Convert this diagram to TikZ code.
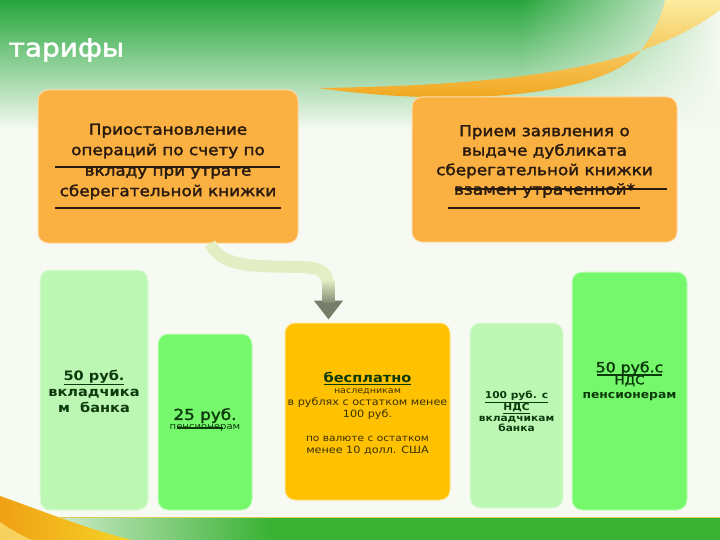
\documentclass[tikz,border=0pt]{standalone}
\usepackage{fontspec}
\setmainfont{DejaVu Sans}[FakeStretch=1.12]
\newfontfamily\mediumfont{DejaVu Sans}[FakeStretch=1.12, FakeBold=2]
\usetikzlibrary{arrows.meta,fadings,positioning}
\definecolor{slidegreen}{RGB}{38,166,60}
\definecolor{bandgreen}{RGB}{58,178,52}
\definecolor{bgpale}{RGB}{246,250,242}
\definecolor{boxorange}{RGB}{251,176,66}
\definecolor{boxyellow}{RGB}{255,193,0}
\definecolor{palegreen}{RGB}{188,248,180}
\definecolor{lightgreen}{RGB}{118,248,108}
\definecolor{inkbrown}{RGB}{40,26,14}
\definecolor{inkgreen}{RGB}{12,58,12}
\definecolor{inkolive}{RGB}{58,50,0}
\definecolor{arrowpale}{RGB}{228,238,196}
\definecolor{arrowgray}{RGB}{118,124,104}
\definecolor{swooshyellow}{RGB}{246,212,40}
\definecolor{swooshorange}{RGB}{240,160,20}

\tikzset{
  tilebox/.style={rounded corners=10pt, line width=1pt, inner sep=0pt},
  orangebox/.style={tilebox, fill=boxorange, draw=white!55!boxorange},
  yellowbox/.style={tilebox, fill=boxyellow, draw=white!55!boxyellow},
  palebox/.style={tilebox, fill=palegreen, draw=white!50!palegreen},
  greenbox/.style={tilebox, fill=lightgreen, draw=white!55!lightgreen},
  boxtext/.style={align=center, inner sep=0pt, text=inkbrown},
  tiletext/.style={align=center, inner sep=0pt, text=inkgreen},
  smear/.style={draw=inkbrown, line width=2pt},
  flowband/.style={draw=arrowpale, line width=12pt,
    -{Triangle[width=28pt,length=19pt,color=arrowgray]}}
}

\begin{document}
\begin{tikzpicture}[x=1pt,y=-1pt]
\useasboundingbox (0,0) rectangle (720,540);

% background
\fill[bgpale] (0,0) rectangle (720,540);
\shade[top color=slidegreen, middle color=slidegreen!50!bgpale, bottom color=bgpale]
  (0,0) rectangle (720,130);
\fill[bgpale, path fading=west] (520,0) rectangle (720,130);

% yellow swoosh
\shade[top color=white!55!swooshyellow, bottom color=swooshorange]
  (318,88) .. controls (460,108) and (600,96) .. (640,52)
  .. controls (655,32) and (662,15) .. (665,0) -- (720,0) -- (720,10)
  .. controls (650,62) and (540,85) .. (318,88) -- cycle;

% bottom band
\fill[bandgreen] (0,518) rectangle (720,540);
\fill[bgpale, path fading=east] (0,518) rectangle (270,540);
\draw[draw={rgb,255:red,222;green,204;blue,90}, line width=1pt] (60,517.5) -- (720,517.5);
\shade[left color=swooshorange, right color=swooshyellow]
  (0,496) .. controls (45,512) and (90,530) .. (132,540) -- (0,540) -- cycle;
\fill[white!40!swooshyellow, opacity=0.7]
  (0,522) .. controls (12,530) and (20,535) .. (32,540) -- (0,540) -- cycle;

\node[white, anchor=west, font=\mediumfont\fontsize{25}{25}\selectfont] (title) at (5,50) {тарифы};

% top boxes
\node[orangebox, minimum width=260pt, minimum height=153pt] (stop) at (168,166.5) {};
\node[orangebox, minimum width=265pt, minimum height=145pt] (dup) at (544.5,169.5) {};

\node[boxtext, font=\mediumfont\fontsize{15}{20.5}\selectfont] (stoptxt) at ([yshift=5pt]stop.center)
  {Приостановление\\операций по счету по\\вкладу при утрате\\сберегательной книжки};
\node[boxtext, font=\mediumfont\fontsize{15}{19.5}\selectfont] (duptxt) at ([yshift=8pt]dup.center)
  {Прием заявления о\\выдаче дубликата\\сберегательной книжки\\взамен утраченной*};

\draw[smear] (55,167) -- (280,167);
\draw[smear] (55,208) -- (281,208);
\draw[smear, line width=1.6pt] (455,189) -- (667,189);
\draw[smear, line width=1.6pt] (448,208) -- (640,208);

% tariff tiles
\node[palebox, minimum width=108pt, minimum height=240pt] (depo) at (94,390) {};
\node[greenbox, minimum width=94pt, minimum height=176pt] (pens) at (205,422) {};
\node[yellowbox, minimum width=165pt, minimum height=177pt] (free) at (367.5,411.5) {};
\node[palebox, minimum width=93pt, minimum height=185pt] (depovat) at (516.5,415.5) {};
\node[greenbox, minimum width=115pt, minimum height=238pt] (pensvat) at (629.5,391) {};

\node[tiletext, font=\bfseries\fontsize{13}{16}\selectfont] (depotxt) at ([yshift=-1pt]depo.center)
  {\underline{50 руб.}\\вкладчика\\м\ \ банка};
\node[tiletext] (penstxt) at ([yshift=2pt]pens.center)
  {{\mediumfont\fontsize{15}{17}\selectfont 25 руб.}\\[-2pt]{\fontsize{9}{11}\selectfont пенсионерам}};
\node[tiletext, text=inkolive] (freetxt) at ([yshift=-2.5pt]free.center)
  {{\bfseries\fontsize{13}{15}\selectfont\textcolor{inkgreen}{\underline{бесплатно}}}\\[-1pt]
   \fontsize{8.5}{9}\selectfont наследникам\\в рублях с остатком менее\\100 руб.\\[12pt]
   \fontsize{9.5}{12}\selectfont по валюте с остатком\\менее 10 долл. США};
\node[tiletext, font=\bfseries\fontsize{9.5}{10.5}\selectfont] (depovattxt) at ([yshift=4pt]depovat.center)
  {\underline{100 руб. с}\\\underline{НДС}\\вкладчикам\\банка};
\node[tiletext] (pensvattxt) at ([yshift=10pt]pensvat.center)
  {{\mediumfont\fontsize{14}{10}\selectfont 50 руб.с}\\{\mediumfont\fontsize{12}{10}\selectfont НДС}\\[2pt]
   {\bfseries\fontsize{11}{12}\selectfont пенсионерам}};

\draw[draw=inkgreen, line width=1.5pt] (177,428) -- (223,428);
\draw[draw=inkgreen, line width=1.5pt] (597,375) -- (662,375);

% arrow from the first box down to the free tile
\draw[flowband] ([xshift=42pt]stop.south) .. controls (222,268) and (255,266) .. (300,267)
  .. controls (324,268) and (328,272) .. (328.5,292) -- ([xshift=-39pt,yshift=3pt]free.north);
\shade[top color=arrowpale, bottom color=arrowgray!85!arrowpale] (322.5,280) rectangle (334.5,302);
\end{tikzpicture}
\end{document}
